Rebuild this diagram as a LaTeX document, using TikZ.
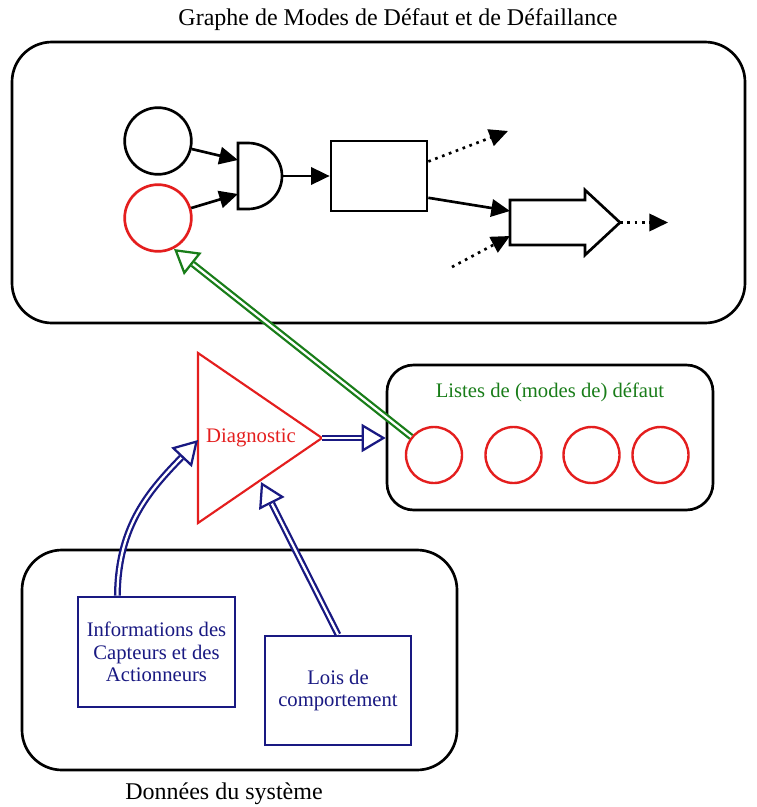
\documentclass[tikz,border=0pt]{standalone}
\usepackage{fontspec}
\setmainfont{Liberation Serif}
\usetikzlibrary{arrows.meta,calc,shapes.geometric}
\definecolor{dblue}{RGB}{25,25,130}
\definecolor{dgreen}{RGB}{25,125,25}
\definecolor{dred}{RGB}{228,30,30}
\begin{document}
\begin{tikzpicture}[x=0.75pt,y=-0.75pt,
  font=\fontsize{15.5}{17}\selectfont,
  rbox/.style={draw=black, line width=2pt, inner sep=0pt},
  circ/.style={circle, draw=black, line width=2pt, minimum size=50pt, inner sep=0pt},
  lcirc/.style={circle, draw=dred, line width=1.8pt, minimum size=42pt, inner sep=0pt},
  bbox/.style={draw=dblue, line width=2pt, text=dblue, align=center, inner sep=0pt},
  fwd/.style={-{Triangle[length=14pt,width=13pt]}, line width=2pt},
  dotfwd/.style={fwd, dash pattern=on 2pt off 3.5pt},
  dbl/.style={double distance=1.7pt, line width=1.7pt},
  ohead/.style={-{Triangle[open, length=18pt, width=21pt, line width=1.7pt]}}
]
\useasboundingbox (0,0) rectangle (757,807);
\fill[white] (0,0) rectangle (757,807);

% ---------- top box ----------
\node (title) at (398,20) {\fontsize{18}{22}\selectfont Graphe de Modes de Défaut et de Défaillance};
\node[rbox, rounded corners=30pt, minimum width=549.75pt, minimum height=210.75pt] (gmdd) at (378.5,182.5) {};

\node[circ] (c1) at (158,141) {};
\node[circ, draw=dred] (c2) at (158,218) {};

% AND gate
\draw[line width=2pt] (238,143) -- (248,143) arc[start angle=90, end angle=-90, x radius=25.5pt, y radius=24.75pt] -- (238,209) -- cycle;
\coordinate (gin1) at (238,160);
\coordinate (gin2) at (238,194);
\coordinate (gout) at (282,176);

\node[rbox, minimum width=72pt, minimum height=52.5pt] (r1) at (379,176) {};

% big arrow shape
\draw[line width=2pt] (510,200) -- (585,200) -- (585,190) -- (620,222.5) -- (585,255) -- (585,245) -- (510,245) -- cycle;
\coordinate (ain1) at (510,211);
\coordinate (ain2) at (510,236);
\coordinate (atip) at (620,222.5);

\coordinate (o1) at (508,131);
\coordinate (o2) at (668,222.5);
\coordinate (i2) at (452,267);

\draw[fwd] (c1) -- (gin1);
\draw[fwd] (c2) -- (gin2);
\draw[fwd] (gout) -- (r1);
\draw[dotfwd] ($(r1.north east)!0.3!(r1.south east)$) -- (o1);
\draw[fwd] ($(r1.north east)!0.8!(r1.south east)$) -- (ain1);
\draw[dotfwd] (i2) -- (ain2);
\draw[dotfwd] (atip) -- (o2);

% ---------- diagnostic ----------
\draw[dred, line width=1.6pt] (198,353) -- (322,438) -- (198,523) -- cycle;
\coordinate (apex) at (322,438);
\node[text=dred] (diag) at (251,438) {Diagnostic};

% ---------- list box ----------
\node[rbox, rounded corners=20pt, minimum width=244.5pt, minimum height=108.75pt] (list) at (550,437.5) {};
\node[text=dgreen] (ltitle) at (550,392) {Listes de (modes de) défaut};
\node[lcirc] (l1) at (434,455) {};
\node[lcirc] (l2) at (513.5,455) {};
\node[lcirc] (l3) at (591.5,455) {};
\node[lcirc] (l4) at (660.5,455) {};

% ---------- bottom box ----------
\node[rbox, rounded corners=30pt, minimum width=326.25pt, minimum height=165pt] (data) at (239.5,660) {};
\node (dtitle) at (224,794) {\fontsize{18}{22}\selectfont Données du système};
\node[bbox, minimum width=117.75pt, minimum height=82.5pt] (info) at (156.5,652) {Informations des\\Capteurs et des\\Actionneurs};
\node[bbox, minimum width=109.5pt, minimum height=81.75pt] (lois) at (338,690.5) {Lois de\\comportement};

% ---------- double arrows ----------
% diagnostic -> list
\coordinate (dT) at (list.west |- apex);
\coordinate (dB) at ($(dT)!18pt!(apex)$);
\draw[dblue, dbl] (apex) -- (dB);
\draw[dblue, ohead] (dB) -- (dT);

% info -> diagnostic (curved)
\coordinate (iS) at ($(info.north west)!0.255!(info.north east)$);
\coordinate (iT) at (198,440);
\coordinate (iB) at ($(iT)+(-16.5,17.4)$);
\draw[dblue, dbl] (iS) .. controls (118,525) and (150,490) .. (iB);
\draw[dblue, ohead] (iB) -- (iT);

% lois -> diagnostic
\coordinate (lS) at (lois.north);
\coordinate (lT) at (261,482);
\coordinate (lB) at ($(lT)!18pt!(lS)$);
\draw[dblue, dbl] (lS) -- (lB);
\draw[dblue, ohead] (lB) -- (lT);

% list -> graph (green)
\coordinate (gT) at (174,249);
\coordinate (gB) at ($(gT)!18pt!(l1)$);
\draw[dgreen, dbl] (l1) -- (gB);
\draw[dgreen, ohead] (gB) -- (gT);
\end{tikzpicture}
\end{document}
